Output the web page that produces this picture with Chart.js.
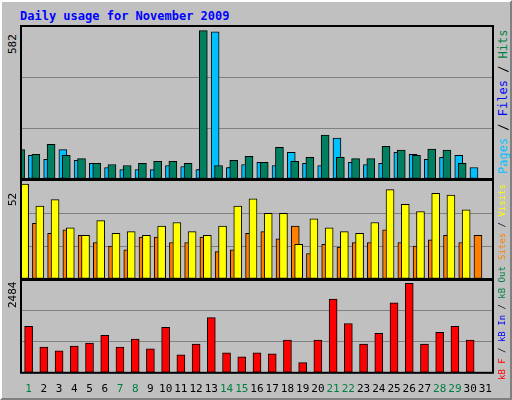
<!DOCTYPE html>
<html>
<head>
<meta charset="utf-8">
<script src="https://cdn.jsdelivr.net/npm/chart.js@4"></script>
<style>
  body { margin:0; background:#fff; }
  #frame { position:absolute; left:0; top:0; width:508px; height:396px; background:#C0C0C0;
    border-left:2px solid #fff; border-top:2px solid #fff; border-right:2px solid #808080; border-bottom:2px solid #808080;
    font-family:"DejaVu Sans Mono", monospace; }
  #title { position:absolute; left:18px; top:7px; color:#0000FF; font-weight:bold; font-size:12px; }
  .wrap { position:absolute; left:18px; width:474px; }
  .vl { position:absolute; font-size:11px; transform-origin:0 0; transform:rotate(-90deg); white-space:nowrap; }
</style>
</head>
<body>
<div id="frame">
  <div id="title">Daily usage for November 2009</div>
  <div class="wrap" style="top:22px;height:156px"><canvas id="c1"></canvas></div>
  <div class="wrap" style="top:176px;height:102px"><canvas id="c2"></canvas></div>
  <div class="wrap" style="top:276px;height:120px"><canvas id="c3"></canvas></div>
  <div class="vl" style="left:4px;top:52px">582</div>
  <div class="vl" style="left:4px;top:204px">52</div>
  <div class="vl" style="left:4px;top:306px">2484</div>
  <div class="vl" style="left:494px;top:172px;font-size:12px"><span style="color:#00C0FF">Pages</span> / <span style="color:#0000FF">Files</span> / <span style="color:#008040">Hits</span></div>
  <div class="vl" style="left:495px;top:258px;font-size:9px"><span style="color:#FF8000">Sites</span> / <span style="color:#FFFF00">Visits</span></div>
  <div class="vl" style="left:495px;top:378px;font-size:9px"><span style="color:#FF0000">kB F</span> / <span style="color:#0000FF">kB In</span> / <span style="color:#008040">kB Out</span></div>
</div>
<script>
// data
var days = [1,2,3,4,5,6,7,8,9,10,11,12,13,14,15,16,17,18,19,20,21,22,23,24,25,26,27,28,29,30,31];
var weekend = [1,7,8,14,15,21,22,28,29];
var hits  = [115,97,136,93,80,61,57,53,61,69,69,61,582,53,73,89,65,124,69,85,172,85,80,80,128,113,93,117,113,61];
var files = [93,77,115,73,61,45,37,37,37,53,49,37,577,45,57,65,53,105,61,53,160,65,57,61,105,97,77,85,93,45];
var pages = [93,77,85,69,61,33,33,29,33,45,29,37,470,45,45,57,45,101,57,41,53,57,49,53,89,93,77,85,85,37];
var visits = [52,40,43.5,28,24,32,25,26,24,29,31,26,24,29,40,44,36,36,19,33,28,26,25,31,49,41,37,47,46,38];
var sites  = [30.5,25,27,24,20,18,16,23,23,20,20,23,15,16,25,26,22,29,14,19,17.5,20,20,27,20,18,21.5,24,20,24];
var kbytes = [1287,716,607,743,825,1043,716,934,662,1260,499,798,1532,553,444,553,526,907,281,907,2049,1369,798,1097,1940,2484,798,1124,1287,907];

function pts(arr, shift) {
  return arr.map(function(v, i) { return { x: days[i] + shift, y: v }; });
}
function ds(arr, shift, color, w) {
  return { data: pts(arr, shift), backgroundColor: color, borderColor: '#000', borderWidth: 1,
           barThickness: w, borderSkipped: false };
}

var boxPlugin = {
  id: 'box',
  afterDraw: function(chart) {
    var a = chart.chartArea, c = chart.ctx;
    c.save(); c.strokeStyle = '#000'; c.lineWidth = 2;
    c.strokeRect(a.left, a.top, a.right - a.left, a.bottom - a.top);
    c.restore();
  }
};

function opts(max, showX) {
  return {
    responsive: true, maintainAspectRatio: false, animation: false,
    layout: { padding: { left: 1, right: 1, top: 2, bottom: showX ? 0 : 1 } },
    plugins: { legend: { display: false }, tooltip: { enabled: false } },
    scales: {
      x: { type: 'linear', min: 0.5, max: 31.5, display: showX, offset: false,
           afterBuildTicks: function(s) { s.ticks = days.map(function(d) { return { value: d }; }); },
           grid: { display: false }, border: { display: false },
           ticks: { autoSkip: false, maxRotation: 0, padding: 2,
             font: { family: 'DejaVu Sans Mono', size: 11 },
             color: function(c) { return weekend.indexOf(c.tick.value) >= 0 ? '#008040' : '#000'; } } },
      y: { min: 0, max: max, ticks: { display: false, stepSize: max / 3 },
           grid: { color: '#808080', lineWidth: 1, drawTicks: false }, border: { display: false } }
    }
  };
}

// later datasets are painted over earlier ones
new Chart(document.getElementById('c1'), {
  type: 'bar',
  data: { datasets: [ds(hits, 0.0, '#008060', 8), ds(files, 0.25, '#00C0FF', 8), ds(pages, 0.0, '#0000FF', 2)] },
  options: opts(600, false), plugins: [boxPlugin]
});
new Chart(document.getElementById('c2'), {
  type: 'bar',
  data: { datasets: [ds(visits, 0.0, '#FFFF00', 8), ds(sites, 0.25, '#FF8000', 8)] },
  options: opts(54.3, false), plugins: [boxPlugin]
});
new Chart(document.getElementById('c3'), {
  type: 'bar',
  data: { datasets: [ds(kbytes, 0.0, '#FF0000', 8)] },
  options: opts(2575, true), plugins: [boxPlugin]
});
</script>
</body>
</html>
